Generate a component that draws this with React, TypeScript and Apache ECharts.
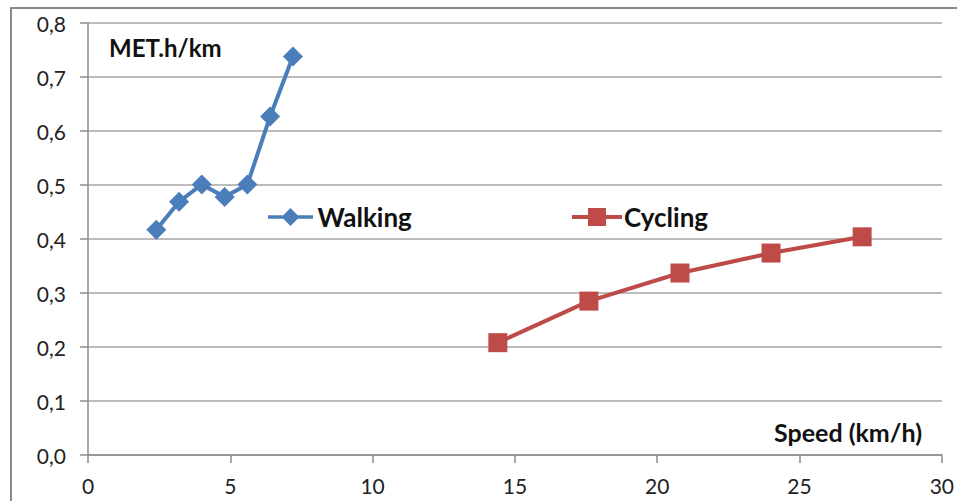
import React, { useEffect, useRef } from "react";
import * as echarts from "echarts";

const walkingSpeed = [2.4, 3.2, 4.0, 4.8, 5.6, 6.4, 7.2];
const walkingMet = [0.417, 0.469, 0.501, 0.478, 0.501, 0.627, 0.738];
const cyclingSpeed = [14.4, 17.6, 20.8, 24.0, 27.2];
const cyclingMet = [0.208, 0.285, 0.337, 0.374, 0.404];
const xTicks = [0, 5, 10, 15, 20, 25, 30];
const yTicks = [0, 0.1, 0.2, 0.3, 0.4, 0.5, 0.6, 0.7, 0.8];

const FONT = "Lato";
const BLUE = "#4a7ebb";
const RED = "#be4b48";

const DIAMOND_ICON = "path://M0,7 L17,7 L25,-1 L33,7 L50,7 L50,11 L33,11 L25,19 L17,11 L0,11 Z";
const SQUARE_ICON = "path://M0,7 L16,7 L16,0 L34,0 L34,7 L50,7 L50,11 L34,11 L34,18 L16,18 L16,11 L0,11 Z";

export default function App() {
  const ref = useRef<HTMLDivElement>(null);
  useEffect(() => {
    document.body.style.margin = "0";
    const chart = echarts.init(ref.current!, null, { renderer: "svg" });
    const pair = (xs: number[], ys: number[]) => xs.map((x, i) => [x, ys[i]]);
    const legendBase = {
      top: 199,
      itemWidth: 50,
      itemHeight: 18,
      itemGap: 6,
      textStyle: { fontSize: 26, fontWeight: "bold", color: "#111", fontFamily: FONT, padding: [0, 0, 0, -3] },
    };
    chart.setOption({
      animation: false,
      backgroundColor: "#ffffff",
      textStyle: { fontFamily: FONT },
      grid: { left: 88, right: 12, top: 23, bottom: 46 },
      xAxis: {
        type: "value",
        min: xTicks[0],
        max: xTicks[xTicks.length - 1],
        interval: 5,
        axisLine: { show: true, lineStyle: { color: "#8c8c8c", width: 1.5 } },
        axisTick: { show: true, length: 8, lineStyle: { color: "#8c8c8c", width: 1.5 } },
        axisLabel: { color: "#222", fontSize: 21, fontFamily: FONT, margin: 20 },
        splitLine: { show: false },
      },
      yAxis: {
        type: "value",
        min: yTicks[0],
        max: yTicks[yTicks.length - 1],
        interval: 0.1,
        axisLine: { show: true, lineStyle: { color: "#8c8c8c", width: 1.5 } },
        axisTick: { show: true, length: 8, lineStyle: { color: "#8c8c8c", width: 1.5 } },
        axisLabel: {
          color: "#222",
          fontSize: 21,
          fontFamily: FONT,
          margin: 22,
          formatter: (v: number) => v.toFixed(1).replace(".", ","),
        },
        splitLine: { show: true, lineStyle: { color: "#a6a6a6", width: 1.5 } },
      },
      legend: [
        { ...legendBase, data: [{ name: "Walking", icon: DIAMOND_ICON }], left: 263 },
        { ...legendBase, data: [{ name: "Cycling", icon: SQUARE_ICON }], left: 567 },
      ],
      series: [
        {
          name: "Walking",
          type: "line",
          data: pair(walkingSpeed, walkingMet),
          symbol: "diamond",
          symbolSize: 20,
          lineStyle: { color: BLUE, width: 4 },
          itemStyle: { color: BLUE },
        },
        {
          name: "Cycling",
          type: "line",
          data: pair(cyclingSpeed, cyclingMet),
          symbol: "rect",
          symbolSize: 19,
          lineStyle: { color: RED, width: 4 },
          itemStyle: { color: RED },
        },
      ],
      graphic: [
        {
          type: "rect",
          shape: { x: 11, y: 8, width: 1000, height: 520 },
          style: { fill: "none", stroke: "#8a8a8a", lineWidth: 2 },
          silent: true,
        },
        {
          type: "text",
          x: 109,
          y: 47,
          style: {
            text: "MET.h/km",
            fontSize: 24,
            fontWeight: "bold",
            fontFamily: FONT,
            fill: "#111",
            verticalAlign: "middle",
          },
        },
        {
          type: "text",
          x: 922,
          y: 432,
          style: {
            text: "Speed (km/h)",
            fontSize: 25,
            fontWeight: "bold",
            fontFamily: FONT,
            fill: "#111",
            align: "right",
            verticalAlign: "middle",
          },
        },
      ],
    });
    return () => chart.dispose();
  }, []);
  return <div ref={ref} style={{ width: 957, height: 501 }} />;
}
